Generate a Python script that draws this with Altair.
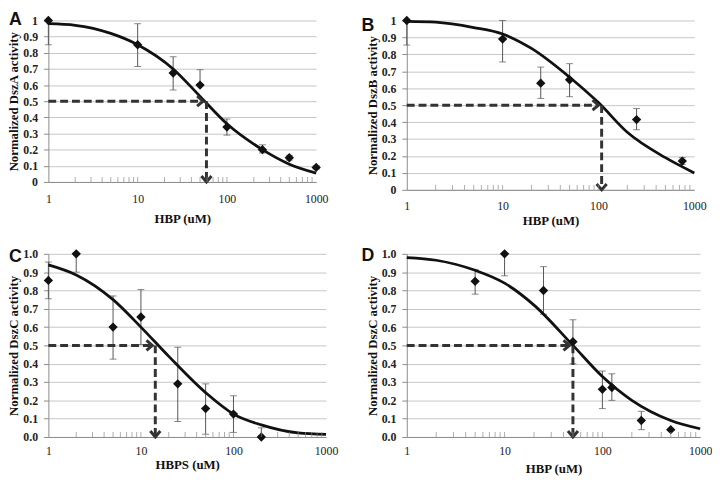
import altair as alt
import pandas as pd

# ---------------- data ----------------
# Panel A (DszA, HBP)
A_x = [1, 10, 25, 50, 100, 250, 500, 1000]
A_y = [1.0, 0.85, 0.675, 0.60, 0.34, 0.20, 0.15, 0.09]
A_lo = [0.85, 0.715, 0.57, 0.60, 0.29, 0.18, 0.135, 0.08]
A_hi = [1.0, 0.98, 0.775, 0.695, 0.39, 0.23, 0.165, 0.10]
A_cx = [1, 2, 5, 10, 25, 50, 100, 250, 500, 1000]
A_cy = [0.98, 0.97, 0.92, 0.85, 0.70, 0.53, 0.36, 0.20, 0.11, 0.055]
A_ic50, A_tip = 59, 54

# Panel B (DszB, HBP)
B_x = [1, 10, 25, 50, 250, 750]
B_y = [1.0, 0.89, 0.63, 0.65, 0.415, 0.17]
B_lo = [0.855, 0.755, 0.54, 0.55, 0.355, 0.15]
B_hi = [1.0, 1.0, 0.725, 0.745, 0.48, 0.19]
B_cx = [1, 2, 5, 10, 20, 50, 100, 200, 500, 1000]
B_cy = [0.995, 0.99, 0.958, 0.92, 0.835, 0.665, 0.515, 0.34, 0.19, 0.10]
B_ic50, B_tip = 108, 100

# Panel C (DszC, HBPS)
C_x = [1, 2, 5, 10, 25, 50, 100, 200]
C_y = [0.855, 1.0, 0.60, 0.655, 0.29, 0.155, 0.125, 0.0]
C_lo = [0.755, 0.90, 0.425, 0.505, 0.085, 0.015, 0.025, 0.0]
C_hi = [0.955, 1.0, 0.77, 0.805, 0.49, 0.29, 0.225, 0.05]
C_cx = [1, 2, 5, 10, 20, 50, 100, 200, 500, 1000]
C_cy = [0.94, 0.885, 0.75, 0.60, 0.44, 0.242, 0.125, 0.066, 0.022, 0.014]
C_ic50, C_tip = 14.3, 13.3

# Panel D (DszC, HBP)
D_x = [5, 10, 25, 50, 100, 125, 250, 500]
D_y = [0.85, 1.0, 0.80, 0.52, 0.26, 0.27, 0.09, 0.04]
D_lo = [0.78, 0.88, 0.67, 0.40, 0.155, 0.20, 0.04, 0.035]
D_hi = [0.915, 1.0, 0.93, 0.64, 0.36, 0.345, 0.14, 0.045]
D_cx = [1, 2, 5, 10, 20, 50, 100, 200, 500, 1000]
D_cy = [0.98, 0.965, 0.91, 0.84, 0.72, 0.50, 0.33, 0.20, 0.09, 0.045]
D_ic50, D_tip = 50, 46

X_TICKS = [1, 10, 100, 1000]
Y_TICKS = [i / 10 for i in range(11)]
MINOR_TICKS = [k * 10 ** e for e in range(3) for k in range(2, 10)] + [10, 100]

SERIF = "Liberation Serif, Times New Roman, serif"
SANS = "Liberation Sans, Arial, sans-serif"
GRID = "#c6c6c6"
AXIS = "#8a8a8a"


def panel(letter, letter_dx, letter_dy, xs, ys, lo, hi, cx, cy, ic50, tip,
          ytitle, xtitle, yfmt, w, h, xlabpad, xtitpad):
    pts = pd.DataFrame({"x": xs, "y": ys, "lo": lo, "hi": hi})
    crv = pd.DataFrame({"x": cx, "y": cy})
    arr = pd.DataFrame({"x0": [1], "x1": [ic50], "xt": [tip], "y0": [0.5], "y1": [0.0]})
    mt = pd.DataFrame({"x": MINOR_TICKS, "y": [0.0] * len(MINOR_TICKS)})
    lab = pd.DataFrame({"t": [letter]})

    xscale = alt.Scale(type="log", domain=[1, 1000], nice=False)
    yscale = alt.Scale(domain=[0, 1], nice=False)
    xaxis = alt.Axis(values=X_TICKS, format="d", grid=False, ticks=False,
                     labelFlush=False, domainColor=AXIS, labelFont=SERIF,
                     labelFontSize=12, labelColor="#222", labelPadding=xlabpad,
                     title=xtitle, titleFont=SERIF, titleFontSize=13,
                     titleFontWeight="bold", titleColor="#111",
                     titlePadding=xtitpad)
    yaxis = alt.Axis(values=Y_TICKS, format=yfmt, grid=True, gridColor=GRID,
                     gridWidth=1, tickColor=AXIS, tickSize=5, domainColor=AXIS,
                     labelFont=SERIF, labelFontSize=12, labelFontWeight="bold",
                     labelColor="#222", labelPadding=6, title=ytitle,
                     titleFont=SERIF, titleFontSize=13, titleFontWeight="bold",
                     titleColor="#111", titlePadding=2)

    def X(f):
        return alt.X(f, type="quantitative", scale=xscale, axis=xaxis)

    def Y(f):
        return alt.Y(f, type="quantitative", scale=yscale, axis=yaxis)

    err = alt.Chart(pts).mark_rule(color="#555", strokeWidth=1).encode(
        x=X("x"), y=Y("lo"), y2="hi")
    cap_lo = alt.Chart(pts).mark_tick(orient="horizontal", size=7, thickness=1,
                                      color="#555").encode(x=X("x"), y=Y("lo"))
    cap_hi = alt.Chart(pts).mark_tick(orient="horizontal", size=7, thickness=1,
                                      color="#555").encode(x=X("x"), y=Y("hi"))
    line = alt.Chart(crv).mark_line(interpolate="monotone", color="#111",
                                    strokeWidth=2.8).encode(x=X("x"), y=Y("y"))
    hdash = alt.Chart(arr).mark_rule(color="#333", strokeWidth=3,
                                     strokeDash=[8, 4]).encode(
        x=X("x0"), x2="xt", y=Y("y0"))
    vdash = alt.Chart(arr).mark_rule(color="#333", strokeWidth=3,
                                     strokeDash=[8, 4]).encode(
        x=X("x1"), y=Y("y0"), y2="y1")
    hhead = alt.Chart(arr).mark_point(shape="M-2,-1.7L0,0L-2,1.7", size=36,
                                      filled=False, strokeWidth=3, color="#333",
                                      opacity=1).encode(x=X("xt"), y=Y("y0"))
    vhead = alt.Chart(arr).mark_point(shape="M-1.7,-2L0,0L1.7,-2", size=36,
                                      filled=False, strokeWidth=3, color="#333",
                                      opacity=1).encode(x=X("x1"), y=Y("y1"))
    dots = alt.Chart(pts).mark_point(shape="diamond", filled=True, size=90,
                                     color="#111", opacity=1).encode(
        x=X("x"), y=Y("y"))
    minor = alt.Chart(mt).mark_tick(orient="vertical", size=5, thickness=1,
                                    color=AXIS, yOffset=-2.5).encode(
        x=X("x"), y=Y("y"))
    letter_mark = alt.Chart(lab).mark_text(font=SANS, fontSize=18,
                                           fontWeight="bold", align="left",
                                           baseline="top", color="#111").encode(
        x=alt.value(letter_dx), y=alt.value(letter_dy), text="t:N")

    return alt.layer(err, cap_lo, cap_hi, line, hdash, vdash, hhead, vhead,
                     dots, minor, letter_mark).properties(width=w, height=h)


pA = panel("A", -40, -9, A_x, A_y, A_lo, A_hi, A_cx, A_cy, A_ic50, A_tip,
           "Normalized DszA activity", "HBP (uM)", "~g", 272, 164, 12, 8)
pB = panel("B", -46, -3, B_x, B_y, B_lo, B_hi, B_cx, B_cy, B_ic50, B_tip,
           "Normalized DszB activity", "HBP (uM)", "~g", 292, 172, 11, 3)
pC = panel("C", -40, -6, C_x, C_y, C_lo, C_hi, C_cx, C_cy, C_ic50, C_tip,
           "Normalized DszC activity", "HBPS (uM)", ".1f", 282, 186, 9, 2)
pD = panel("D", -46, -7, D_x, D_y, D_lo, D_hi, D_cx, D_cy, D_ic50, D_tip,
           "Normalized DszC activity", "HBP (uM)", ".1f", 298, 186, 9, 6)

col1 = alt.vconcat(pA, pC, spacing=23)
col2 = alt.vconcat(pB, pD, spacing=20)
chart = alt.hconcat(col1, col2, spacing=24).properties(
    padding=0, background="white").configure_view(strokeWidth=0).configure_axis(
    labelFont=SERIF, titleFont=SERIF)

chart.save("out.html", embed_options={"renderer": "svg", "actions": False})
